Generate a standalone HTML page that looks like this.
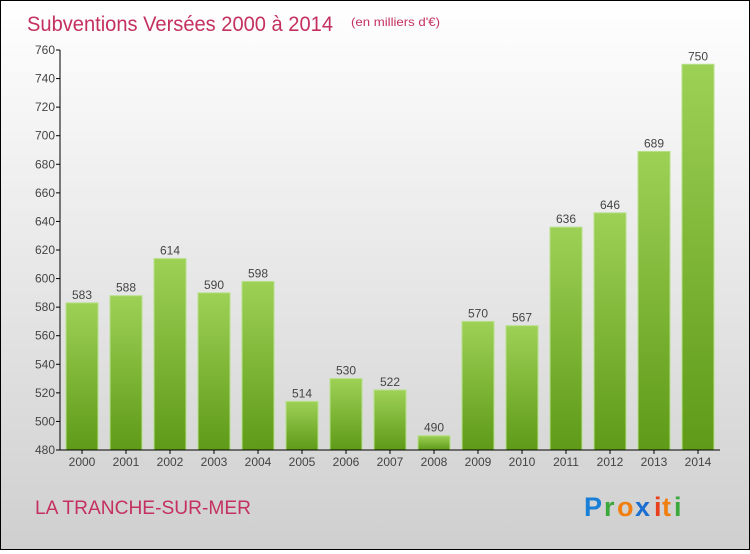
<!DOCTYPE html>
<html><head><meta charset="utf-8"><style>
html,body{margin:0;padding:0}
body{width:750px;height:550px;overflow:hidden;font-family:"Liberation Sans",sans-serif}
#wrap{position:relative;width:748px;height:548px;border:1px solid #000;background:linear-gradient(#ffffff,#cfcfcf)}
</style></head><body>
<div id="wrap">
<svg id="chart" width="748" height="548">
<defs><linearGradient id="bg" x1="0" y1="0" x2="0" y2="1"><stop offset="0" stop-color="#9dd156"/><stop offset="1" stop-color="#5f9a18"/></linearGradient></defs>
<text x="26" y="30" font-size="21" fill="#c4305f" textLength="306" lengthAdjust="spacingAndGlyphs">Subventions Versées 2000 à 2014</text>
<text x="350" y="25" font-size="12" fill="#c4305f" textLength="89" lengthAdjust="spacingAndGlyphs">(en milliers d'€)</text>
<text x="34" y="513" font-size="19" fill="#c4305f" textLength="216" lengthAdjust="spacingAndGlyphs">LA TRANCHE-SUR-MER</text>
<g font-size="27" font-weight="bold">
<text x="583" y="515" fill="#1a7fd6">P</text><text x="603" y="515" fill="#3aa83a">r</text><text x="616" y="515" fill="#f07f10">o</text><text x="634" y="515" fill="#1a6fd0">x</text><text x="653" y="515" fill="#e8401a">i</text><text x="661" y="515" fill="#f07f10">t</text><text x="673" y="515" fill="#3aa83a">i</text>
</g>
<g id="plot"></g>
</svg>
</div>
<script>
const years=["2000","2001","2002","2003","2004","2005","2006","2007","2008","2009","2010","2011","2012","2013","2014"];
const values=[583,588,614,590,598,514,530,522,490,570,567,636,646,689,750];
const yTicks=[480,500,520,540,560,580,600,620,640,660,680,700,720,740,760];
const NS="http://www.w3.org/2000/svg";
const g=document.getElementById('plot');
const x0=59,x1=719,yTop=49,yBot=449,yMin=480,yMax=760;
const y=v=>yBot-(v-yMin)/(yMax-yMin)*(yBot-yTop);
const step=(x1-x0)/years.length;
const xc=i=>x0+step*(i+0.5);
function mk(t,a,txt){const e=document.createElementNS(NS,t);for(const k in a)e.setAttribute(k,a[k]);if(txt!==undefined)e.textContent=txt;g.appendChild(e);return e;}
yTicks.forEach(t=>{
 const l=mk('line',{x1:x0-4,x2:x0,y1:y(t),y2:y(t),stroke:'#000'});
 
 
 const tx=mk('text',{x:x0-5,y:y(t)+4,'font-size':12,fill:'#444','text-anchor':'end'},t);
 
 
});
years.forEach((yr,i)=>{
 const v=values[i],bw=32;
 const r=mk('rect',{x:xc(i)-bw/2,y:y(v),width:bw,height:yBot-y(v),fill:'url(#bg)',stroke:'#b8e08a','stroke-width':1});
 
 
 const lb=mk('text',{x:xc(i),y:y(v)-4,'font-size':12,fill:'#444','text-anchor':'middle'},v);
 
 
 const tk=mk('line',{x1:xc(i),x2:xc(i),y1:yBot,y2:yBot+4,stroke:'#000'});
 
 
 const xl=mk('text',{x:xc(i),y:yBot+16,'font-size':12,fill:'#444','text-anchor':'middle'},yr);
 
 
});
const ya=mk('line',{x1:x0,x2:x0,y1:yTop,y2:yBot,stroke:'#000'});


const xa=mk('line',{x1:x0,x2:x1,y1:yBot,y2:yBot,stroke:'#000'});


</script>
</body></html>
